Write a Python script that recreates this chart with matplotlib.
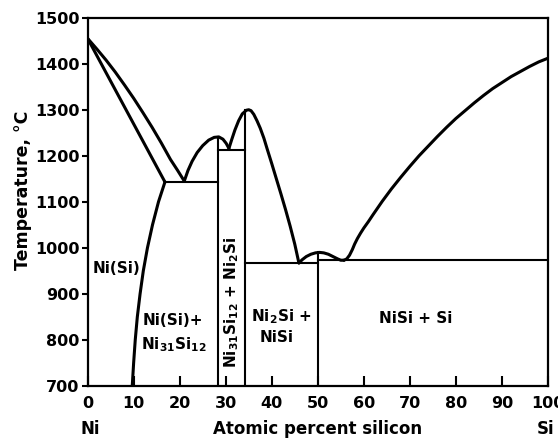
import matplotlib
matplotlib.use("Agg")
import matplotlib.pyplot as plt

plt.rcParams['font.family'] = ['DejaVu Sans']
plt.rcParams['font.weight'] = 'bold'
plt.rcParams['axes.labelweight'] = 'bold'

# liquidus / solidus / solvus on the Ni-rich side
ni_liquidus_x = [0, 2, 4, 6, 8, 10, 12, 14, 16, 18, 19.5, 21.0]
ni_liquidus_t = [1455, 1432, 1408, 1382, 1354, 1325, 1294, 1262, 1228, 1192, 1169, 1145]
ni_solidus_x = [0, 16.8]
ni_solidus_t = [1455, 1143]
solvus_x = [16.8, 15.4, 14.1, 13.0, 12.1, 11.4, 10.8, 10.35, 10.0, 9.7]
solvus_t = [1143, 1100, 1050, 1000, 950, 900, 850, 800, 750, 700]

# liquidus domes over the intermediate phases
dome1_x = [21.0, 21.8, 22.7, 23.8, 25.0, 26.3, 27.5, 28.5, 29.4, 30.1, 30.7]
dome1_t = [1145, 1168, 1188, 1207, 1222, 1234, 1240, 1241, 1236, 1227, 1216]
dome2_x = [30.7, 31.3, 32.0, 32.8, 33.6, 34.5, 35.0, 35.5, 36.1, 36.8, 37.5,
           38.3, 39.0, 40.0, 41.0, 42.0, 43.0, 44.0, 45.0, 45.9]
dome2_t = [1216, 1235, 1256, 1276, 1291, 1299, 1300, 1298, 1290, 1276, 1260,
           1238, 1215, 1183, 1150, 1117, 1083, 1047, 1008, 967]
dome3_x = [45.9, 46.6, 47.5, 48.5, 49.5, 50.4, 51.3, 52.3, 53.3, 54.3, 55.0, 55.7]
dome3_t = [967, 974, 981, 986, 989, 990, 989, 986, 981, 976, 973, 973]

# liquidus on the Si-rich side
si_liquidus_x = [55.7, 56.3, 56.9, 57.5, 58.0, 58.6, 59.3, 60.0, 61, 62, 64, 66,
                 68, 70, 72, 74, 76, 78, 80, 82, 84, 86, 88, 90, 92, 94, 96, 98, 100]
si_liquidus_t = [973, 976, 984, 996, 1008, 1020, 1032, 1043, 1057, 1072, 1101,
                 1128, 1153, 1177, 1200, 1221, 1242, 1262, 1281, 1298, 1315,
                 1331, 1346, 1359, 1372, 1383, 1394, 1404, 1412]

# invariant lines: (x_start, x_end, temperature)
eutectics = [(16.8, 28.3, 1143), (28.3, 34.2, 1213), (34.2, 50.1, 966), (50.1, 100, 973)]
# compound lines: (composition, top temperature)
compounds = [(28.3, 1241), (34.2, 1300), (50.1, 990)]

fig = plt.figure(figsize=(5.58, 4.43), dpi=100)
ax = fig.add_axes([0.157, 0.129, 0.825, 0.831])

lw_curve = 2.2
lw_box = 1.5
for xs, ts in [(ni_liquidus_x, ni_liquidus_t), (ni_solidus_x, ni_solidus_t),
               (solvus_x, solvus_t), (dome1_x, dome1_t), (dome2_x, dome2_t),
               (dome3_x, dome3_t), (si_liquidus_x, si_liquidus_t)]:
    ax.plot(xs, ts, color='black', lw=lw_curve, solid_capstyle='round',
            solid_joinstyle='round')

for x1, x2, t in eutectics:
    ax.plot([x1, x2], [t, t], color='black', lw=lw_box)
for x, t in compounds:
    ax.plot([x, x], [700, t], color='black', lw=lw_box)

ax.set_xlim(0, 100)
ax.set_ylim(700, 1500)
ax.set_xticks(range(0, 101, 10))
ax.set_yticks(range(700, 1501, 100))
ax.tick_params(axis='x', direction='in', length=7, width=1.5, pad=7,
               labelsize=11.5, top=False)
ax.tick_params(axis='y', direction='out', length=4, width=1.5, pad=2,
               labelsize=11.5)
for s in ax.spines.values():
    s.set_linewidth(1.6)

ax.set_ylabel('Temperature, °C', fontsize=12.5)
ax.yaxis.set_label_coords(-0.141, 0.53)
ax.yaxis.label.set_va('center')
ax.set_xlabel('Atomic percent silicon', fontsize=12)
ax.xaxis.set_label_coords(0.5, -0.118)
ax.xaxis.label.set_va('center')
ax.text(0.005, -0.118, 'Ni', transform=ax.transAxes, ha='center', va='center',
        fontsize=12)
ax.text(0.995, -0.118, 'Si', transform=ax.transAxes, ha='center', va='center',
        fontsize=12)

fs = 11
ax.text(1.0, 956, 'Ni(Si)', ha='left', va='center', fontsize=fs)
ax.text(18.5, 841, 'Ni(Si)+', ha='center', va='center', fontsize=fs)
ax.text(18.8, 789, 'Ni$_{31}$Si$_{12}$', ha='center', va='center', fontsize=fs)
ax.text(31.3, 882, 'Ni$_{31}$Si$_{12}$ + Ni$_2$Si', ha='center', va='center',
        rotation=90, fontsize=fs)
ax.text(42.0, 850, 'Ni$_2$Si +', ha='center', va='center', fontsize=fs)
ax.text(41.0, 804, 'NiSi', ha='center', va='center', fontsize=fs)
ax.text(71.3, 847, 'NiSi + Si', ha='center', va='center', fontsize=fs)

fig.savefig('out.png', dpi=100)
